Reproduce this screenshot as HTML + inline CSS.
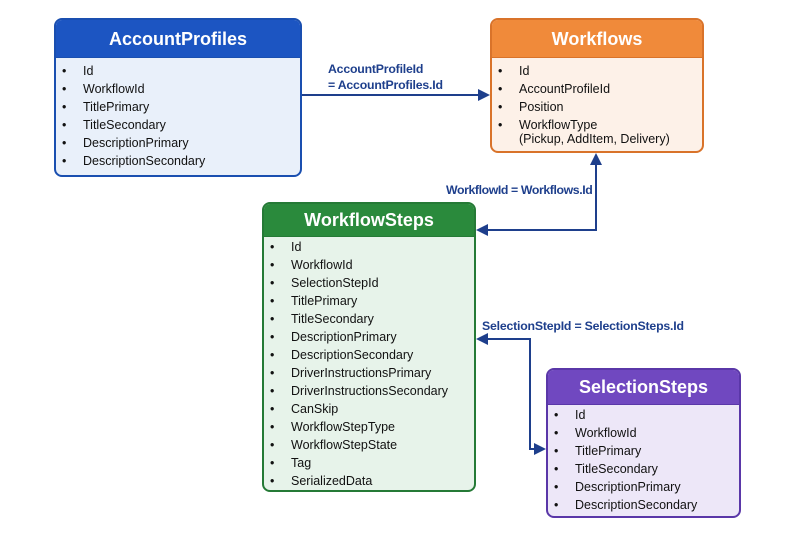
<!DOCTYPE html>
<html><head><meta charset="utf-8"><style>
*{margin:0;padding:0;box-sizing:border-box}
body{width:800px;height:533px;background:#fff;position:relative;overflow:hidden;font-family:"Liberation Sans",sans-serif}
.box{position:absolute;border:2px solid;border-radius:8px;overflow:hidden}
.hd{color:#fff;font-weight:bold;font-size:18px;text-align:center;border-bottom:1.5px solid}
.it{position:absolute;font-size:12.5px;color:#111;white-space:nowrap;left:6px}
.it:before{content:"•";position:absolute;left:0}
.it span{position:absolute;left:21px}
.lbl{position:absolute;color:#1e3f8c;font-size:12.3px;font-weight:bold;white-space:nowrap;letter-spacing:-0.2px}
</style></head><body>

<div class="box" style="left:54px;top:18px;width:248px;height:159px;border-color:#1a4fb0;background:#e9f0fa">
 <div class="hd" style="background:#1c55c2;border-color:#1a4fb0;height:38px;line-height:38px">AccountProfiles</div>
 <div class="it" style="top:44px"><span>Id</span></div>
 <div class="it" style="top:62px"><span>WorkflowId</span></div>
 <div class="it" style="top:80px"><span>TitlePrimary</span></div>
 <div class="it" style="top:98px"><span>TitleSecondary</span></div>
 <div class="it" style="top:116px"><span>DescriptionPrimary</span></div>
 <div class="it" style="top:134px"><span>DescriptionSecondary</span></div>
</div>

<div class="box" style="left:490px;top:18px;width:214px;height:135px;border-color:#d9732a;background:#fdf1e8">
 <div class="hd" style="background:#f08a3a;border-color:#d9732a;height:38px;line-height:38px">Workflows</div>
 <div class="it" style="top:44px"><span>Id</span></div>
 <div class="it" style="top:62px"><span>AccountProfileId</span></div>
 <div class="it" style="top:80px"><span>Position</span></div>
 <div class="it" style="top:98px"><span>WorkflowType<br>(Pickup, AddItem, Delivery)</span></div>
</div>

<div class="box" style="left:262px;top:202px;width:214px;height:290px;border-color:#257a36;background:#e7f3ea">
 <div class="hd" style="background:#2a8a3c;border-color:#257a36;height:33px;line-height:33px">WorkflowSteps</div>
 <div class="it" style="top:36px"><span>Id</span></div>
 <div class="it" style="top:54px"><span>WorkflowId</span></div>
 <div class="it" style="top:72px"><span>SelectionStepId</span></div>
 <div class="it" style="top:90px"><span>TitlePrimary</span></div>
 <div class="it" style="top:108px"><span>TitleSecondary</span></div>
 <div class="it" style="top:126px"><span>DescriptionPrimary</span></div>
 <div class="it" style="top:144px"><span>DescriptionSecondary</span></div>
 <div class="it" style="top:162px"><span>DriverInstructionsPrimary</span></div>
 <div class="it" style="top:180px"><span>DriverInstructionsSecondary</span></div>
 <div class="it" style="top:198px"><span>CanSkip</span></div>
 <div class="it" style="top:216px"><span>WorkflowStepType</span></div>
 <div class="it" style="top:234px"><span>WorkflowStepState</span></div>
 <div class="it" style="top:252px"><span>Tag</span></div>
 <div class="it" style="top:270px"><span>SerializedData</span></div>
</div>

<div class="box" style="left:546px;top:368px;width:195px;height:150px;border-color:#5a37a8;background:#ede7f8">
 <div class="hd" style="background:#7048c0;border-color:#5a37a8;height:35px;line-height:35px">SelectionSteps</div>
 <div class="it" style="top:38px"><span>Id</span></div>
 <div class="it" style="top:56px"><span>WorkflowId</span></div>
 <div class="it" style="top:74px"><span>TitlePrimary</span></div>
 <div class="it" style="top:92px"><span>TitleSecondary</span></div>
 <div class="it" style="top:110px"><span>DescriptionPrimary</span></div>
 <div class="it" style="top:128px"><span>DescriptionSecondary</span></div>
</div>

<svg style="position:absolute;left:0;top:0" width="800" height="533">
 <g stroke="#1e3f8c" stroke-width="2" fill="none">
  <path d="M302 95 H480"/>
  <path d="M596 162 V230 H486"/>
  <path d="M486 339 H530 V449 H536"/>
 </g>
 <g fill="#1e3f8c">
  <polygon points="490,95 478,89 478,101"/>
  <polygon points="596,153 590,165 602,165"/>
  <polygon points="476,230 488,224 488,236"/>
  <polygon points="476,339 488,333 488,345"/>
  <polygon points="546,449 534,443 534,455"/>
 </g>
</svg>
<div class="lbl" style="left:328px;top:61px;line-height:16px">AccountProfileId<br>= AccountProfiles.Id</div>
<div class="lbl" style="left:446px;top:183px;letter-spacing:-0.4px">WorkflowId = Workflows.Id</div>
<div class="lbl" style="left:482px;top:319px">SelectionStepId = SelectionSteps.Id</div>
</body></html>
